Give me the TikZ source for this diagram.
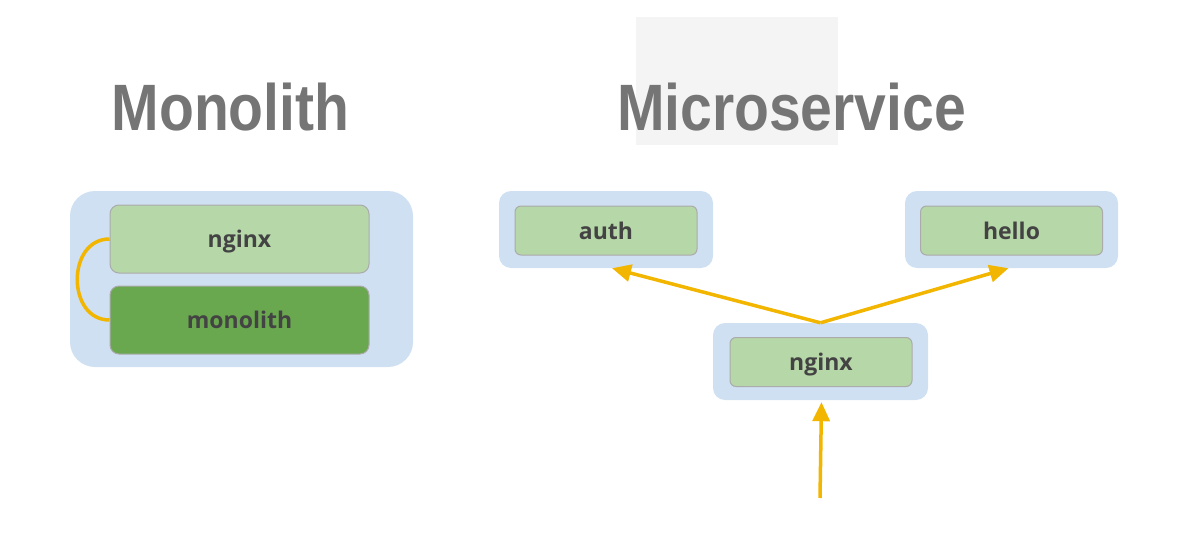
\documentclass[tikz,border=0pt]{standalone}
\usepackage{fontspec}
\setmainfont{Open Sans}
\newfontfamily\titlefont{Liberation Sans}
\usetikzlibrary{arrows.meta,calc}
\definecolor{paneblue}{HTML}{CFE0F2}
\definecolor{boxgreen}{HTML}{B6D7A8}
\definecolor{darkgreen}{HTML}{6AA84F}
\definecolor{boxline}{HTML}{ABABAB}
\definecolor{wire}{HTML}{F2B500}
\definecolor{labelgray}{HTML}{434343}
\definecolor{titlegray}{HTML}{757575}
\definecolor{panelgray}{HTML}{F4F4F4}
\tikzset{
  pane/.style={fill=paneblue,draw=none,rounded corners=#1,inner sep=0pt},
  pane/.default=12pt,
  svc/.style={fill=boxgreen,draw=boxline,line width=1pt,rounded corners=6pt,
    minimum width=182pt,minimum height=49pt,inner sep=0pt,
    text height=17pt,text depth=0pt,
    text=labelgray,font=\bfseries\fontsize{23}{26}\selectfont},
  heading/.style={anchor=base,text=titlegray,inner sep=0pt,
    font=\titlefont\bfseries\fontsize{65.6}{70}\selectfont},
  wireline/.style={draw=wire,line width=3.5pt},
  wirearrow/.style={wireline,-{Triangle[length=19pt,width=17pt]}}
}
\begin{document}
\begin{tikzpicture}[x=1pt,y=-1pt]
  \useasboundingbox (0,0) rectangle (1179,549);
  \fill[panelgray] (636,17) rectangle (838,145);% faint panel behind heading

  % Headings
  \node[heading] (montitle) at (230.5,130) {\scalebox{0.87}[1]{Monolith}};
  \node[heading] (mictitle) at (791.5,130) {\scalebox{0.87}[1]{Microservice}};

  % Monolith
  \node[pane=25pt,minimum width=343pt,minimum height=176pt] (monpane) at (241.5,279) {};
  \node[svc,minimum width=259pt,minimum height=68pt,rounded corners=9pt] (monnginx) at (239.5,239) {nginx};
  \node[svc,minimum width=259pt,minimum height=68pt,rounded corners=9pt,fill=darkgreen] (monapp) at (239.5,320) {monolith};
  \draw[wireline] (monnginx.west) .. controls +(-43,0) and +(-43,0) .. (monapp.west);

  % Microservice
  \node[pane,minimum width=214pt,minimum height=77pt] (authpane) at (606,229.5) {};
  \node[svc] (auth) at (606,230.5) {auth};
  \node[pane,minimum width=213pt,minimum height=77pt] (hellopane) at (1011.5,229.5) {};
  \node[svc] (hello) at (1011.5,230.5) {hello};
  \node[pane,minimum width=215pt,minimum height=77pt] (nginxpane) at (820.5,361.5) {};
  \node[svc] (nginx) at (821,362) {nginx};
  \coordinate (client) at (820,498);

  \draw[wirearrow] (nginxpane.north) -- ($(authpane.south)+(6,0)$);
  \draw[wirearrow] (nginxpane.north) -- ($(hellopane.south)+(-3,0)$);
  \draw[wirearrow] (client) -- ($(nginxpane.south)+(1,2)$);
\end{tikzpicture}
\end{document}
